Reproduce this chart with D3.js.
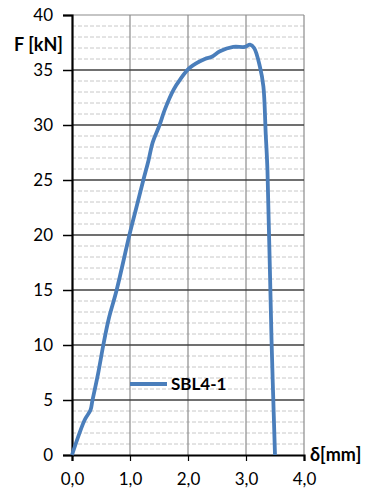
<!DOCTYPE html>
<html>
<head>
<meta charset="utf-8">
<script src="https://cdn.jsdelivr.net/npm/d3@7"></script>
<style>
  body { margin: 0; background: #fff; }
  text { font-family: Lato, "Open Sans", sans-serif; }
</style>
</head>
<body>
<div id="chart"></div>
<script>
// SBL4-1 load-displacement curve
const deflection = [0, 0.22, 0.32, 0.35, 0.45, 0.54, 0.63, 0.77, 0.99, 1.11, 1.23, 1.32, 1.39, 1.51, 1.60, 1.75, 1.86, 2.03, 2.29, 2.41, 2.55, 2.78, 2.98, 3.07, 3.14, 3.24, 3.30, 3.34, 3.37, 3.44, 3.50];
const force = [0, 3.2, 4.1, 4.9, 7.4, 10.0, 12.3, 15.0, 20.0, 22.5, 25.0, 26.8, 28.4, 30.0, 31.4, 33.2, 34.1, 35.2, 36.0, 36.2, 36.7, 37.1, 37.1, 37.3, 37.0, 35.3, 33.5, 29.2, 25.9, 10.5, 0];
const xTicks = [0, 1, 2, 3, 4];
const yTicks = [0, 5, 10, 15, 20, 25, 30, 35, 40];
const seriesName = "SBL4-1";

const width = 373, height = 495;
const margin = { top: 15, right: 69, bottom: 40, left: 72 };

const svg = d3.select("#chart").append("svg")
    .attr("width", width)
    .attr("height", height);

const x = d3.scaleLinear().domain([0, 4]).range([margin.left, width - margin.right]);
const y = d3.scaleLinear().domain([0, 40]).range([height - margin.bottom, margin.top]);

const fmt = d => d.toFixed(1).replace(".", ",");

// minor horizontal grid (dashed)
svg.append("g")
    .selectAll("line")
    .data(d3.range(1, 40).filter(v => v % 5 !== 0))
    .enter().append("line")
    .attr("x1", x(0)).attr("x2", x(4))
    .attr("y1", d => y(d)).attr("y2", d => y(d))
    .attr("stroke", "#c8c8c8")
    .attr("stroke-width", 1)
    .attr("stroke-dasharray", "4,2");

// vertical grid
svg.append("g")
    .selectAll("line")
    .data(xTicks.slice(1))
    .enter().append("line")
    .attr("x1", d => x(d)).attr("x2", d => x(d))
    .attr("y1", y(0)).attr("y2", y(40))
    .attr("stroke", "#8c8c8c")
    .attr("stroke-width", 1.2);

// top border
svg.append("line")
    .attr("x1", x(0)).attr("x2", x(4))
    .attr("y1", y(40)).attr("y2", y(40))
    .attr("stroke", "#8c8c8c")
    .attr("stroke-width", 1.2);

// major horizontal grid
svg.append("g")
    .selectAll("line")
    .data(yTicks.slice(1, -1))
    .enter().append("line")
    .attr("x1", x(0)).attr("x2", x(4))
    .attr("y1", d => y(d)).attr("y2", d => y(d))
    .attr("stroke", "#404040")
    .attr("stroke-width", 1.5);

const yAxis = svg.append("g")
    .attr("transform", `translate(${x(0)},0)`)
    .call(d3.axisLeft(y).tickValues(yTicks).tickSize(9).tickPadding(10).tickFormat(d => d));
yAxis.select(".domain").attr("stroke", "#000").attr("stroke-width", 2.2);
yAxis.selectAll(".tick line").attr("stroke", "#000").attr("stroke-width", 1.5);
yAxis.selectAll(".tick text").attr("font-size", 17).attr("fill", "#000")
    .attr("font-family", "Lato, 'Open Sans', sans-serif");

const xAxis = svg.append("g")
    .attr("transform", `translate(0,${y(0)})`)
    .call(d3.axisBottom(x).tickValues(xTicks).tickSize(6).tickPadding(12).tickFormat(fmt));
xAxis.select(".domain").attr("stroke", "#000").attr("stroke-width", 2.2);
xAxis.selectAll(".tick line").attr("stroke", "#000").attr("stroke-width", 1.2);
xAxis.selectAll(".tick text").attr("font-size", 17).attr("fill", "#000")
    .attr("font-family", "Lato, 'Open Sans', sans-serif");

// data line
const pts = deflection.map((d, i) => [d, force[i]]);
svg.append("path")
    .datum(pts)
    .attr("fill", "none")
    .attr("stroke", "#4a7ebb")
    .attr("stroke-width", 3.8)
    .attr("stroke-linejoin", "round")
    .attr("d", d3.line().curve(d3.curveCatmullRom.alpha(0.5)).x(d => x(d[0])).y(d => y(d[1])));

// axis titles
svg.append("text")
    .attr("x", 14).attr("y", 51)
    .attr("font-size", 18).attr("font-weight", "bold")
    .text("F [kN]");

svg.append("text")
    .attr("x", 310).attr("y", 461)
    .attr("font-size", 18).attr("font-weight", "bold")
    .text("δ[mm]");

// legend
svg.append("line")
    .attr("x1", 130).attr("x2", 167)
    .attr("y1", 384).attr("y2", 384)
    .attr("stroke", "#4a7ebb")
    .attr("stroke-width", 3.8);
svg.append("text")
    .attr("x", 171).attr("y", 390)
    .attr("font-size", 17).attr("font-weight", "bold")
    .text(seriesName);
</script>
</body>
</html>
